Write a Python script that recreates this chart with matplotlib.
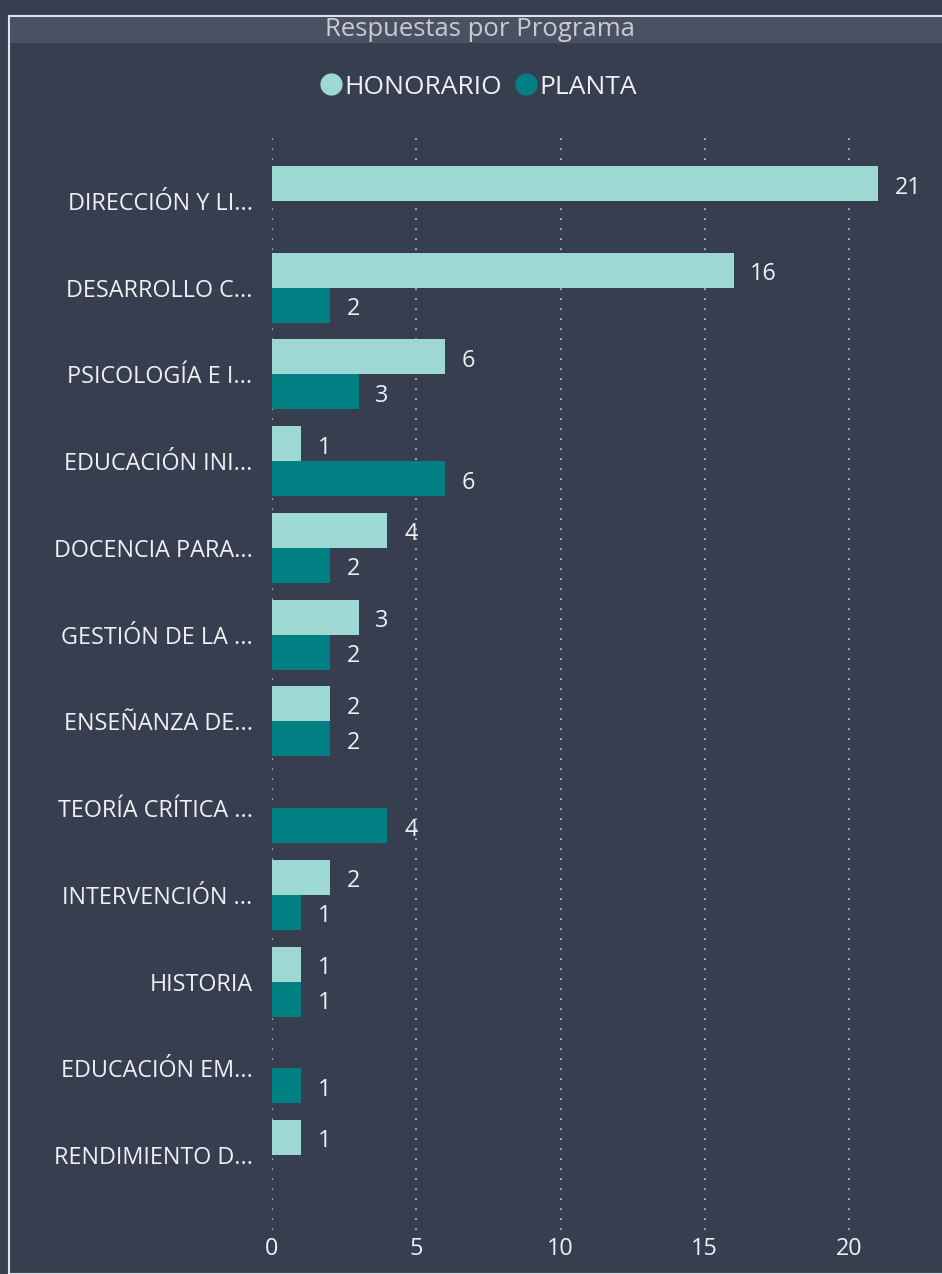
import numpy as np
import matplotlib.pyplot as plt
from matplotlib.patches import Rectangle
from matplotlib.lines import Line2D

plt.rcParams['font.family'] = ['Open Sans', 'DejaVu Sans']

programas = ['DIRECCIÓN Y LI...', 'DESARROLLO C...', 'PSICOLOGÍA E I...', 'EDUCACIÓN INI...',
             'DOCENCIA PARA...', 'GESTIÓN DE LA ...', 'ENSEÑANZA DE...', 'TEORÍA CRÍTICA ...',
             'INTERVENCIÓN ...', 'HISTORIA', 'EDUCACIÓN EM...', 'RENDIMIENTO D...']
honorario = [21, 16, 6, 1, 4, 3, 2, 0, 2, 1, 0, 1]
planta = [0, 2, 3, 6, 2, 2, 2, 4, 1, 1, 1, 0]
ticks = [0, 5, 10, 15, 20]

bg = '#373e4f'
c_hon = '#9ed8d2'
c_pla = '#008083'
txt = '#eef0f4'
fs = 16.8

W, H = 942, 1274
fig = plt.figure(figsize=(W / 100, H / 100), dpi=100, facecolor=bg)

# frame and title bar
fig.patches.append(Rectangle((9 / W, 0), 1, 1 - 16 / H, transform=fig.transFigure,
                             facecolor='none', edgecolor='#dfe3ea', lw=1.5))
fig.patches.append(Rectangle((10 / W, 1 - 43 / H), 1, 26 / H, transform=fig.transFigure,
                             facecolor='#4a5162', edgecolor='none'))
fig.text(480 / W, 1 - 30 / H, 'Respuestas por Programa', color='#c9cbd0',
         fontsize=18.5, ha='center', va='center')

# axes: x=0 at 272px, 28.85 px per unit; category pitch 86.7px
x0, ax_top, ax_bot = 272, 135, 1230
ax = fig.add_axes([x0 / W, 1 - ax_bot / H, (W - x0) / W, (ax_bot - ax_top) / H])
ax.set_facecolor(bg)
pitch = 86.7
ax.set_xlim(0, (W - x0) / 28.85)
ax.set_ylim(len(programas) - 1 + (ax_bot - 1155) / pitch, -(201 - ax_top) / pitch)

y = np.arange(len(programas))
h = 35 / pitch
ax.barh(y - h / 2, honorario, height=h, color=c_hon, zorder=2)
ax.barh(y + h / 2, planta, height=h, color=c_pla, zorder=2)

dy = 4 / pitch
for i in range(len(programas)):
    if honorario[i] > 0:
        ax.text(honorario[i] + 0.58, y[i] - h / 2 + dy, str(honorario[i]), color=txt,
                fontsize=fs, va='center', ha='left', zorder=3)
    if planta[i] > 0:
        ax.text(planta[i] + 0.58, y[i] + h / 2 + dy, str(planta[i]), color=txt,
                fontsize=fs, va='center', ha='left', zorder=3)

ax.set_yticks(y)
ax.set_yticklabels(programas, color=txt, fontsize=fs)
ax.set_xticks(ticks)
ax.set_xticklabels([str(t) for t in ticks], color=txt, fontsize=fs)
ax.tick_params(length=0)
ax.tick_params(axis='y', pad=14)
ax.tick_params(axis='x', pad=5)
ax.grid(axis='x', color='#c8ccd4', linestyle=(0, (1, 5)), lw=1.2, zorder=1)
for s in ax.spines.values():
    s.set_visible(False)

handles = [Line2D([], [], marker='o', ls='none', color=c_hon, markersize=15),
           Line2D([], [], marker='o', ls='none', color=c_pla, markersize=15)]
fig.legend(handles, ['HONORARIO', 'PLANTA'], loc='center', bbox_to_anchor=(476 / W, 1 - 87 / H),
           ncol=2, frameon=False, fontsize=19, labelcolor=txt, handletextpad=-0.1,
           columnspacing=0.3, handlelength=1.2)

plt.savefig('out.png', dpi=100, facecolor=bg)
